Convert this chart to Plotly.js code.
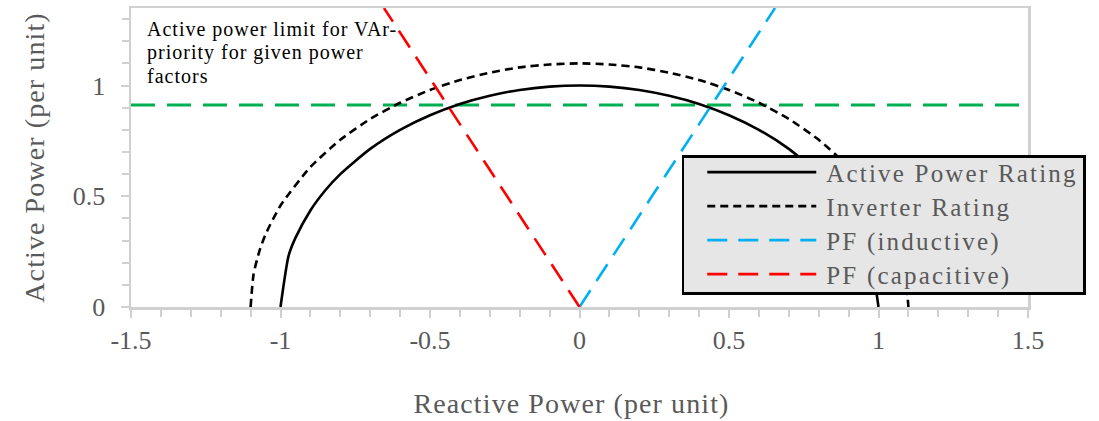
<!DOCTYPE html>
<html>
<head>
<meta charset="utf-8">
<script src="https://cdn.plot.ly/plotly-3.0.1.min.js"></script>
<style>
html,body{margin:0;padding:0;background:#fff;}
#chart{width:1099px;height:421px;}
.legendtext{letter-spacing:2.2px;}
.xtitle,.ytitle{letter-spacing:1.1px;}
.annotation-text{letter-spacing:1px;}
</style>
</head>
<body>
<div id="chart"></div>
<script>
// Active Power Rating (radius 1 circle)
var ratingX = [-1, -0.973, -0.95, -0.9, -0.85, -0.8, -0.7, -0.6, -0.5, -0.4, -0.3, -0.2, -0.1, 0, 0.1, 0.2, 0.3, 0.4, 0.5, 0.6, 0.7, 0.8, 0.85, 0.9, 0.95, 0.973, 1];
var ratingY = [0, 0.231, 0.312, 0.436, 0.527, 0.6, 0.714, 0.8, 0.866, 0.917, 0.954, 0.98, 0.995, 1, 0.995, 0.98, 0.954, 0.917, 0.866, 0.8, 0.714, 0.6, 0.527, 0.436, 0.312, 0.231, 0];
// Inverter Rating (radius 1.1)
var inverterX = [-1.1, -1.09, -1.07, -1.05, -1.0, -0.9, -0.8, -0.7, -0.6, -0.5, -0.4, -0.3, -0.2, -0.1, 0, 0.1, 0.2, 0.3, 0.4, 0.5, 0.6, 0.7, 0.8, 0.9, 1.0, 1.05, 1.07, 1.09, 1.1];
var inverterY = [0, 0.148, 0.255, 0.328, 0.458, 0.632, 0.755, 0.849, 0.922, 0.98, 1.025, 1.058, 1.082, 1.095, 1.1, 1.095, 1.082, 1.058, 1.025, 0.98, 0.922, 0.849, 0.755, 0.632, 0.458, 0.328, 0.255, 0.148, 0];
// Power factor lines
var pfIndX = [0, 0.654];
var pfIndY = [0, 1.35];
var pfCapX = [0, -0.654];
var pfCapY = [0, 1.35];
// Active power limit
var limitX = [-1.5, 1.5];
var limitY = [0.912, 0.912];

var xTickVals = [-1.5, -1, -0.5, 0, 0.5, 1, 1.5];
var xTickText = ['-1.5', '-1', '-0.5', '0', '0.5', '1', '1.5'];
var yTickVals = [0, 0.5, 1];
var yTickText = ['0', '0.5', '1'];

var noteLines = ['Active power limit for VAr-', 'priority for given power', 'factors'];

var serif = 'Liberation Serif, Times New Roman, serif';
var grey = '#595959';

var traces = [
  {x: limitX, y: limitY, mode: 'lines', name: 'limit', showlegend: false,
   line: {color: '#00b050', width: 3.2, dash: '24px,12px'}, hoverinfo: 'skip'},
  {x: ratingX, y: ratingY, mode: 'lines', name: 'Active Power Rating',
   line: {color: '#000000', width: 2.6, shape: 'spline', smoothing: 0.6}},
  {x: inverterX, y: inverterY, mode: 'lines', name: 'Inverter Rating',
   line: {color: '#000000', width: 2.6, dash: '8px,5px', shape: 'spline', smoothing: 0.6}},
  {x: pfIndX, y: pfIndY, mode: 'lines', name: 'PF (inductive)',
   line: {color: '#00b0f0', width: 2.6, dash: '20px,11px'}},
  {x: pfCapX, y: pfCapY, mode: 'lines', name: 'PF (capacitive)',
   line: {color: '#ff0000', width: 2.6, dash: '20px,11px'}}
];

var noteY = [0.928, 0.851, 0.772];
var annotations = noteLines.map(function (t, i) {
  return {
    xref: 'paper', yref: 'paper', x: 0.016, y: noteY[i], xanchor: 'left', yanchor: 'middle',
    align: 'left', showarrow: false, text: t,
    font: {family: serif, size: 20, color: '#000000'}
  };
});

var layout = {
  width: 1099, height: 421,
  margin: {l: 131, r: 71, t: 8, b: 114},
  paper_bgcolor: '#ffffff', plot_bgcolor: '#ffffff',
  showlegend: true,
  legend: {
    x: 0.614, y: 0.508, xanchor: 'left', yanchor: 'top',
    bgcolor: '#e6e6e6', bordercolor: '#000000', borderwidth: 2.5,
    font: {family: serif, size: 25, color: grey},
    itemwidth: 132, tracegroupgap: 0
  },
  xaxis: {
    range: [-1.5, 1.5], showgrid: false, zeroline: false,
    showline: true, mirror: true, linecolor: '#d0d0d0', linewidth: 2.5,
    tickmode: 'array', tickvals: xTickVals, ticktext: xTickText,
    ticks: 'outside', ticklen: 8, tickwidth: 2, tickcolor: '#d0d0d0',
    minor: {dtick: 0.1, tick0: 0, ticks: 'outside', ticklen: 7, tickwidth: 2, tickcolor: '#d0d0d0'},
    tickfont: {family: serif, size: 26, color: grey},
    title: {text: 'Reactive Power (per unit)', font: {family: serif, size: 28, color: grey}, standoff: 40},
    automargin: false
  },
  yaxis: {
    range: [0, 1.35], showgrid: false, zeroline: false,
    showline: true, mirror: true, linecolor: '#d0d0d0', linewidth: 2.5,
    tickmode: 'array', tickvals: yTickVals, ticktext: yTickText,
    ticks: 'outside', ticklen: 8, tickwidth: 2, tickcolor: '#d0d0d0',
    ticklabelstandoff: 10,
    minor: {dtick: 0.1, tick0: 0, ticks: 'outside', ticklen: 7, tickwidth: 2, tickcolor: '#d0d0d0'},
    tickfont: {family: serif, size: 26, color: grey},
    title: {text: 'Active Power (per unit)', font: {family: serif, size: 28, color: grey}, standoff: 20},
    automargin: false
  },
  annotations: annotations
};

Plotly.newPlot('chart', traces, layout, {staticPlot: true, displayModeBar: false}).then(function (gd) {
  // legend sample lines inset like the reference
  gd.querySelectorAll('.legend .legendlines path').forEach(function (p) {
    p.setAttribute('d', 'M23,0h109');
  });
  // tighter legend rows (34px) and box height as in the reference
  var items = gd.querySelectorAll('.legend .traces');
  items.forEach(function (g, i) {
    var tr = g.getAttribute('transform') || '';
    var m = tr.match(/translate\(\s*([-\d.]+)[ ,]+([-\d.]+)\s*\)/);
    var tx = m ? parseFloat(m[1]) : 0;
    g.setAttribute('transform', 'translate(' + tx + ',' + (17 + 34 * i) + ')');
  });
  var bg = gd.querySelector('.legend rect.bg');
  if (bg) { bg.setAttribute('height', 137); }
  // shift x title slightly left as in the reference
  var xt = gd.querySelector('.xtitle');
  if (xt) { xt.setAttribute('transform', 'translate(-8,0)'); }
});
</script>
</body>
</html>
